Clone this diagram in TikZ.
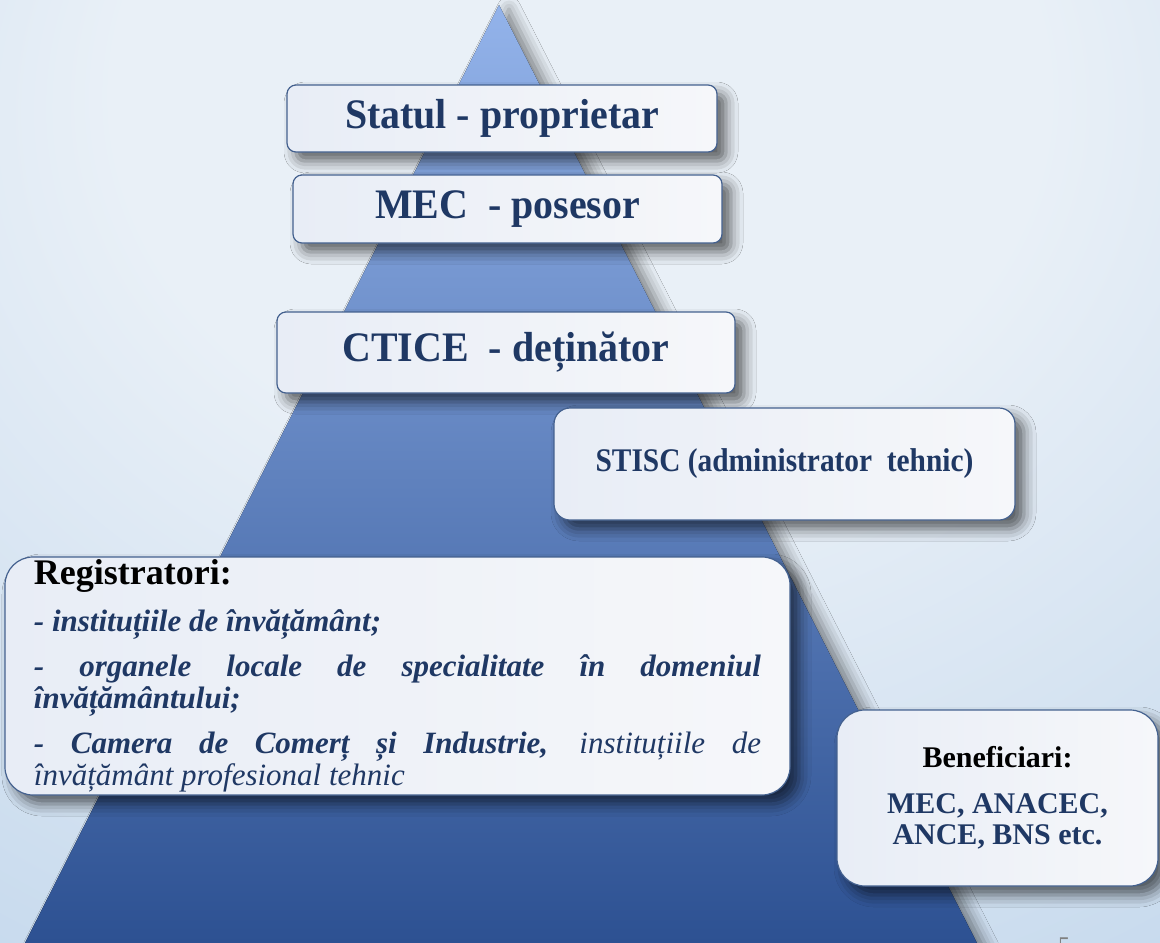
\documentclass[tikz,border=0pt]{standalone}
\usepackage{fontspec}
\setmainfont{Liberation Serif}
\newfontfamily\tierfont[FakeStretch=0.95]{Liberation Serif}
\newfontfamily\stiscfont[FakeStretch=0.89]{Liberation Serif}
\usetikzlibrary{shapes,positioning,calc,shadows.blur}

\definecolor{bgin}{HTML}{E9F0F7}
\definecolor{bgout}{HTML}{A7C5E4}
\definecolor{pyrtop}{HTML}{93B3EA}
\definecolor{pyrmid}{HTML}{5A84D2}
\definecolor{pyrbot}{HTML}{2D5192}
\definecolor{boxline}{HTML}{44618F}
\definecolor{boxleft}{HTML}{E8EDF6}
\definecolor{boxright}{HTML}{F6F7FA}
\definecolor{navy}{HTML}{1F3864}

\pgfdeclareradialshading{bgglow}{\pgfpoint{0bp}{25bp}}{color(0bp)=(bgin); color(20bp)=(bgin); color(72bp)=(bgout); color(100bp)=(bgout)}

\begin{document}
\begin{tikzpicture}[
    x=1pt, y=-1pt,
    tier/.style = {rectangle, rounded corners=9pt, draw=boxline, line width=1.2pt, left color=boxleft, right color=boxright,
        blur shadow={shadow xshift=9pt, shadow yshift=-9pt, shadow blur radius=12pt, shadow opacity=60},
        text=navy, align=center, inner sep=0pt},
    tiertext/.style = {tier, font=\tierfont\fontsize{42}{46}\selectfont\bfseries},
    listbox/.style = {tier, rounded corners=28pt, font=\fontsize{31}{32}\selectfont\bfseries\itshape}
]
    \useasboundingbox (0,0) rectangle (1160,943);
    % Background
    \fill[shading=bgglow] (0,0) rectangle (1160,943);

    % Pyramid
    \fill[top color=pyrtop, middle color=pyrmid, bottom color=pyrbot,
        blur shadow={shadow xshift=10pt, shadow yshift=-4pt, shadow blur radius=12pt, shadow opacity=45}]
        (499,5) -- (977,943) -- (25,943) -- cycle;

    % Levels
    \node[tiertext, minimum width=430, minimum height=67] (statul) at (502,118.5) {Statul - proprietar};
    \node[tiertext, minimum width=429, minimum height=68] (mec) at (507.5,209) {MEC\ \ - posesor};
    \node[tiertext, minimum width=458, minimum height=81] (ctice) at (506,352.5) {CTICE\ \ - deținător};
    \node[tier, rounded corners=16pt, minimum width=461, minimum height=112,
        font=\stiscfont\fontsize{33}{36}\selectfont\bfseries] (stisc) at (784.5,464) {STISC (administrator\ \ tehnic)};

    % Registratori
    \node[listbox, text width=727, inner xsep=29, minimum height=238, align=justify] (reg) at (397.5,676)
        {{\fontsize{36}{38}\selectfont\upshape\color{black}Registratori:}\\[15pt]
        - instituțiile de învățământ;\\[13pt]
        - organele locale de specialitate în domeniul\linebreak învățământului;\\[13pt]
        - Camera de Comerț și Industrie, {\mdseries instituțiile de\linebreak învățământ profesional tehnic}};

    % Beneficiari
    \node[listbox, minimum width=321, minimum height=176, font=\fontsize{30}{31}\selectfont\bfseries] (benef) at (997.5,798)
        {{\color{black}Beneficiari:}\\[15pt] MEC, ANACEC,\\ ANCE, BNS etc.};

    % Slide number
    \node[anchor=north west, inner sep=0pt, text=gray, font=\fontsize{24}{24}\selectfont] (pagenum) at (1058,938) {5};
\end{tikzpicture}
\end{document}
